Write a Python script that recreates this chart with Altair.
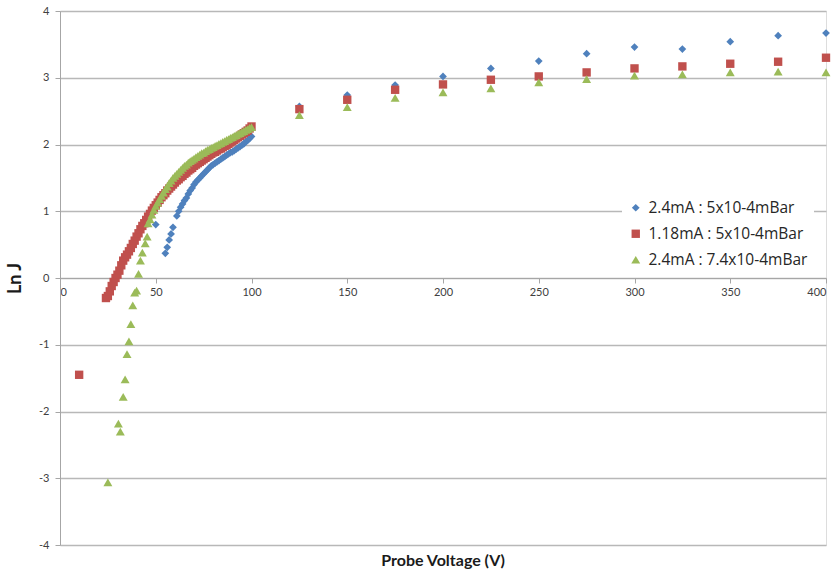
import altair as alt
import pandas as pd

names = ["2.4mA : 5x10-4mBar", "1.18mA : 5x10-4mBar", "2.4mA : 7.4x10-4mBar"]
colors = ["#4F81BD", "#C0504D", "#9BBB59"]
shapes = ["diamond", "square", "triangle-up"]
sizes = [60, 80, 80]

x_ticks = [0, 50, 100, 150, 200, 250, 300, 350, 400]
y_ticks = [-4, -3, -2, -1, 0, 1, 2, 3, 4]

# Series 1: 2.4mA : 5x10-4mBar (blue diamonds)
blue_v = [50, 55, 56, 57, 58, 59, 61, 62, 63, 64, 65, 66, 67, 68, 69, 70,
          71, 72, 73, 74, 75, 76, 77, 78, 79, 80, 81, 82, 83, 84, 85, 86,
          87, 88, 89, 90, 91, 92, 93, 94, 95, 96, 97, 98, 99, 100,
          125, 150, 175, 200, 225, 250, 275, 300, 325, 350, 375, 400]
blue_j = [0.80, 0.37, 0.46, 0.57, 0.66, 0.76, 0.93, 1.00, 1.06, 1.11, 1.16, 1.20, 1.26, 1.31, 1.35, 1.40,
          1.44, 1.47, 1.50, 1.53, 1.56, 1.59, 1.62, 1.65, 1.68, 1.70, 1.72, 1.74, 1.76, 1.78, 1.80, 1.82,
          1.84, 1.86, 1.88, 1.89, 1.91, 1.93, 1.95, 1.97, 1.99, 2.01, 2.04, 2.06, 2.09, 2.12,
          2.57, 2.74, 2.89, 3.02, 3.14, 3.25, 3.36, 3.46, 3.43, 3.54, 3.63, 3.67]

# Series 2: 1.18mA : 5x10-4mBar (red squares)
red_v = [10, 24, 25, 26, 27, 28, 29, 30, 31, 32, 33, 34, 35, 36, 37, 38, 39, 40,
         41, 42, 43, 44, 45, 46, 47, 48, 49, 50, 51, 52, 53, 54, 55, 56, 57, 58,
         59, 60, 61, 62, 63, 64, 65, 66, 67, 68, 69, 70, 71, 72, 73, 74, 75, 76,
         77, 78, 79, 80, 81, 82, 83, 84, 85, 86, 87, 88, 89, 90, 91, 92, 93, 94,
         95, 96, 97, 98, 99, 100,
         125, 150, 175, 200, 225, 250, 275, 300, 325, 350, 375, 400]
red_j = [-1.45, -0.30, -0.27, -0.20, -0.12, -0.06, 0.00, 0.05, 0.11, 0.19, 0.26, 0.31, 0.35, 0.40, 0.45, 0.51, 0.56, 0.62,
         0.67, 0.73, 0.78, 0.82, 0.87, 0.92, 0.96, 1.01, 1.05, 1.09, 1.13, 1.17, 1.21, 1.24, 1.27, 1.31, 1.34, 1.37,
         1.40, 1.43, 1.46, 1.48, 1.51, 1.53, 1.56, 1.58, 1.61, 1.63, 1.65, 1.68, 1.70, 1.72, 1.74, 1.76, 1.78, 1.80,
         1.82, 1.84, 1.86, 1.88, 1.89, 1.91, 1.93, 1.94, 1.96, 1.98, 1.99, 2.01, 2.03, 2.05, 2.07, 2.09, 2.11, 2.13,
         2.15, 2.17, 2.19, 2.21, 2.24, 2.27,
         2.53, 2.67, 2.82, 2.90, 2.97, 3.02, 3.08, 3.14, 3.17, 3.21, 3.24, 3.30]

# Series 3: 2.4mA : 7.4x10-4mBar (green triangles)
green_v = [25, 30.5, 31.5, 33, 34, 35, 36, 37, 38, 39, 40, 41, 42, 43, 44.5, 45.5,
           46, 47, 48, 49, 50, 51, 52, 53, 54, 55, 56, 57, 58, 59, 60, 61, 62, 63,
           64, 65, 66, 67, 68, 69, 70, 71, 72, 73, 74, 75, 76, 77, 78, 79, 80, 81,
           82, 83, 84, 85, 86, 87, 88, 89, 90, 91, 92, 93, 94, 95, 96, 97, 98, 99, 100,
           125, 150, 175, 200, 225, 250, 275, 300, 325, 350, 375, 400]
green_j = [-3.06, -2.18, -2.30, -1.78, -1.52, -1.14, -0.95, -0.69, -0.41, -0.22, -0.19, 0.06, 0.26, 0.38, 0.52, 0.62,
           0.82, 0.88, 0.95, 1.02, 1.08, 1.13, 1.18, 1.23, 1.28, 1.33, 1.37, 1.42, 1.46, 1.50, 1.53, 1.56, 1.59, 1.62,
           1.65, 1.68, 1.70, 1.73, 1.75, 1.77, 1.79, 1.81, 1.83, 1.85, 1.87, 1.88, 1.90, 1.92, 1.93, 1.95, 1.96, 1.98,
           1.99, 2.01, 2.02, 2.04, 2.05, 2.07, 2.08, 2.10, 2.11, 2.13, 2.14, 2.16, 2.17, 2.19, 2.20, 2.22, 2.23, 2.25, 2.26,
           2.44, 2.56, 2.70, 2.78, 2.84, 2.93, 2.98, 3.03, 3.05, 3.08, 3.09, 3.08]

rows = []
for name, vs, js in [(names[0], blue_v, blue_j), (names[1], red_v, red_j), (names[2], green_v, green_j)]:
    for v, j in zip(vs, js):
        rows.append({"series": name, "v": v, "j": j})
df = pd.DataFrame(rows)

W, H = 766, 534
FONT = "Lato"
legend = alt.Legend(orient="none", legendX=562, legendY=183, title=None,
                    fillColor="white", padding=6, labelFont="Open Sans", labelFontSize=15.5,
                    labelColor="#262626", symbolSize=36, rowPadding=9, labelOffset=5,
                    symbolStrokeWidth=0)

chart = alt.Chart(df).mark_point(filled=True, opacity=1, strokeWidth=0).encode(
    x=alt.X("v:Q", scale=alt.Scale(domain=[0, 400], nice=False, zero=False),
            axis=alt.Axis(values=x_ticks, offset=-H / 2, grid=False, title=None,
                          domainColor="#A6A6A6", domainWidth=1, tickColor="#A6A6A6",
                          tickSize=5, labelFont=FONT, labelFontSize=11,
                          labelColor="#404040", labelPadding=3)),
    y=alt.Y("j:Q", scale=alt.Scale(domain=[-4, 4], nice=False),
            axis=alt.Axis(values=y_ticks, grid=True, gridColor="#B8B8B8", gridWidth=1.3,
                          domainColor="#A6A6A6", tickColor="#A6A6A6", tickSize=5,
                          labelFont=FONT, labelFontSize=11, labelColor="#404040",
                          labelPadding=6, labelExpr="datum.value",
                          title="Ln J", titleFont=FONT, titleFontSize=18,
                          titleFontWeight="bold", titleColor="#1a1a1a", titlePadding=14)),
    color=alt.Color("series:N", scale=alt.Scale(domain=names, range=colors), legend=legend),
    shape=alt.Shape("series:N", scale=alt.Scale(domain=names, range=shapes), legend=legend),
    size=alt.Size("series:N", scale=alt.Scale(domain=names, range=sizes), legend=None),
).properties(
    width=W, height=H,
    title=alt.TitleParams("Probe Voltage (V)", orient="bottom", anchor="middle",
                          font=FONT, fontSize=16, fontWeight="bold", color="#1a1a1a",
                          offset=3),
    autosize=alt.AutoSizeParams(type="none"),
    padding={"left": 60, "top": 11, "right": 9, "bottom": 26},
).configure_view(stroke=None).configure(background="white")

chart.save("out.html", embed_options={"renderer": "svg", "actions": False})
